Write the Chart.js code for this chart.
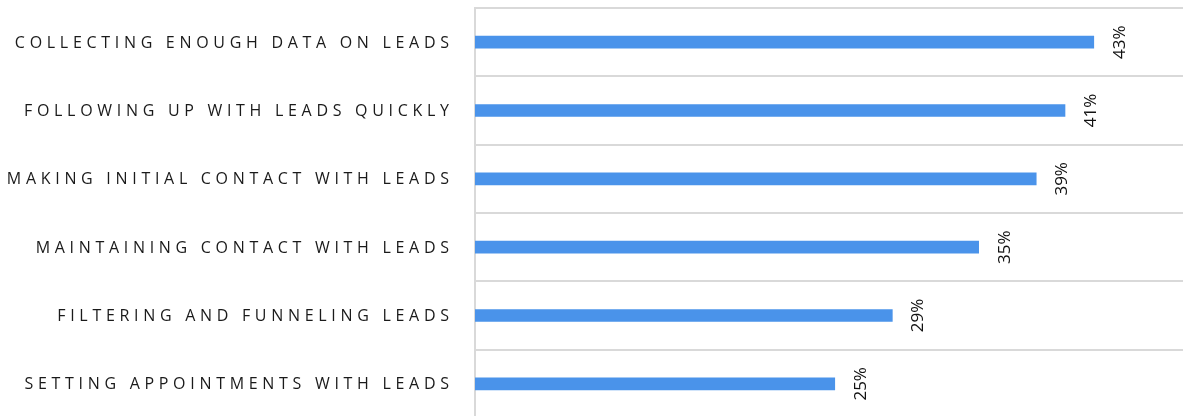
<!DOCTYPE html>
<html>
<head>
<meta charset="utf-8">
<script src="https://cdn.jsdelivr.net/npm/chart.js@4"></script>
<style>
  html, body { margin: 0; padding: 0; background: #fff; overflow: hidden; }
  #wrap { width: 1183px; height: 418px; position: relative; }
</style>
</head>
<body>
<div id="wrap"><canvas id="leadsChart"></canvas></div>
<script>
// ====== Data ======
const categories = [
  "COLLECTING ENOUGH DATA ON LEADS",
  "FOLLOWING UP WITH LEADS QUICKLY",
  "MAKING INITIAL CONTACT WITH LEADS",
  "MAINTAINING CONTACT WITH LEADS",
  "FILTERING AND FUNNELING LEADS",
  "SETTING APPOINTMENTS WITH LEADS",
];
const values = [43, 41, 39, 35, 29, 25];
const valueLabels = values.map((v) => v + "%");

const LABEL_FONT = "16px 'Open Sans'";
const LABEL_SPACING = 4.7;

// category labels with letter spacing (drawn next to the y scale)
const categoryLabels = {
  id: "categoryLabels",
  afterDraw(chart) {
    const ctx = chart.ctx;
    const yScale = chart.scales.y;
    ctx.save();
    ctx.font = LABEL_FONT;
    ctx.letterSpacing = LABEL_SPACING + "px";
    ctx.fillStyle = "#1a1a1a";
    ctx.textAlign = "right";
    ctx.textBaseline = "middle";
    categories.forEach((c, i) => {
      ctx.fillText(c, 449 + LABEL_SPACING, yScale.getPixelForValue(i) + 1);
    });
    ctx.restore();
  },
};

// rotated value labels at the end of each bar
const valueLabelsPlugin = {
  id: "valueLabels",
  afterDatasetsDraw(chart) {
    const ctx = chart.ctx;
    const meta = chart.getDatasetMeta(0);
    ctx.save();
    ctx.font = "17px 'Open Sans'";
    ctx.fillStyle = "#111";
    ctx.textAlign = "center";
    ctx.textBaseline = "middle";
    meta.data.forEach((bar, i) => {
      ctx.save();
      ctx.translate(bar.x + 26, bar.y);
      ctx.rotate(-Math.PI / 2);
      ctx.fillText(valueLabels[i], 0, 0);
      ctx.restore();
    });
    ctx.restore();
  },
};

new Chart(document.getElementById("leadsChart"), {
  type: "bar",
  data: {
    labels: categories,
    datasets: [
      {
        data: values,
        backgroundColor: "#4a93ea",
        barThickness: 12,
      },
    ],
  },
  options: {
    indexAxis: "y",
    responsive: true,
    maintainAspectRatio: false,
    animation: false,
    layout: { padding: { top: 8, right: 0, bottom: 0, left: 0 } },
    plugins: { legend: { display: false }, tooltip: { enabled: false } },
    scales: {
      x: {
        min: 0,
        max: 49.2,
        display: false,
      },
      y: {
        ticks: { display: false },
        grid: { color: "#d9d9d9", lineWidth: 2, drawTicks: false, offset: true },
        border: { color: "#d9d9d9", width: 2 },
        afterFit(scale) {
          scale.width = 475;
        },
      },
    },
  },
  plugins: [categoryLabels, valueLabelsPlugin],
});
</script>
</body>
</html>
